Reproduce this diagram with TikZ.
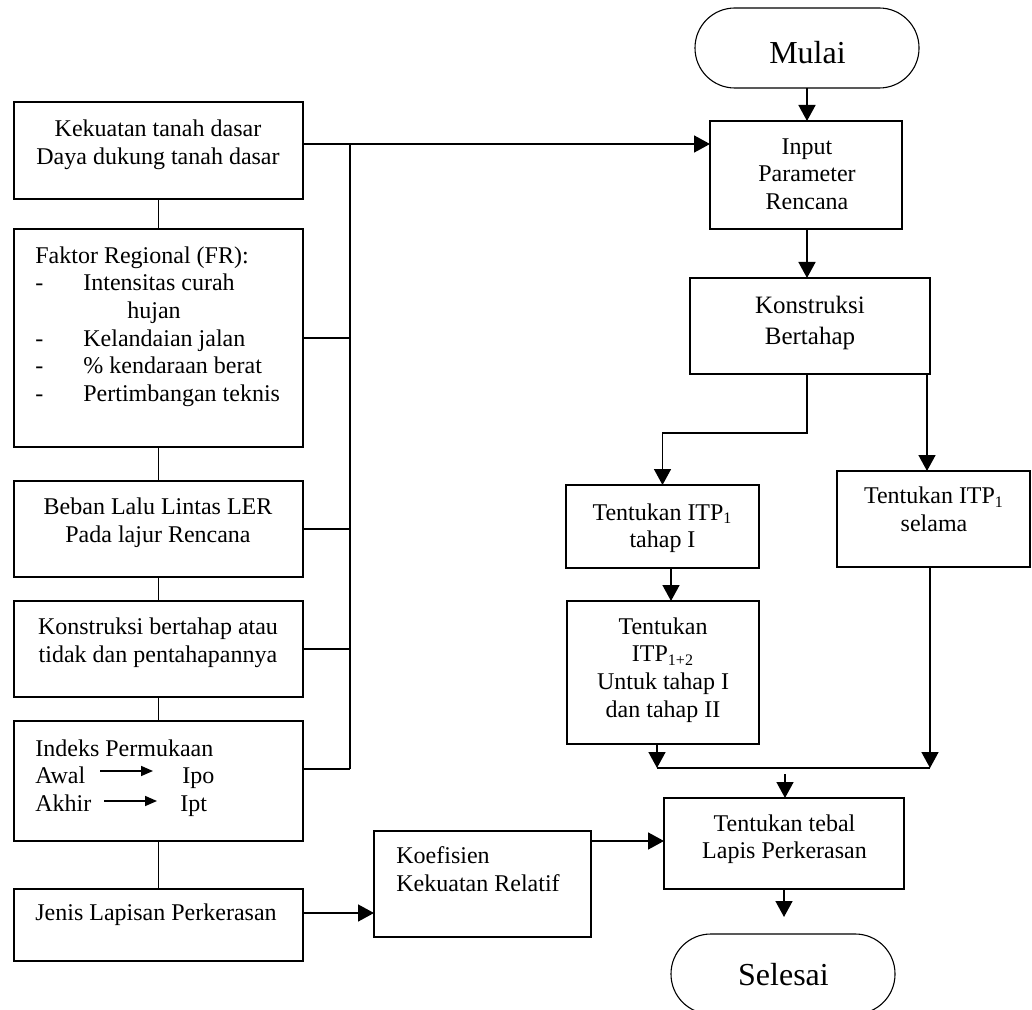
\documentclass[tikz,border=0pt]{standalone}
\usepackage{fontspec}
\setmainfont{Liberation Serif}
\usetikzlibrary{arrows.meta}
\begin{document}
\begin{tikzpicture}[x=0.5pt,y=-0.5pt,
  boxf/.style={draw,line width=0.75pt,inner sep=0pt,outer sep=0pt},
  termbox/.style={draw,line width=0.55pt,rounded corners=19.9pt,inner sep=0pt,outer sep=0pt,minimum width=112pt,minimum height=40pt},
  txt/.style={inner sep=0pt,font=\fontsize{12}{13.8}\selectfont,align=center},
  txtl/.style={inner sep=0pt,font=\fontsize{12}{13.8}\selectfont,align=left},
  bigtxt/.style={inner sep=0pt,font=\fontsize{16}{19}\selectfont},
  conn/.style={line width=0.8pt},
  arr/.style={line width=0.8pt,-{Triangle[length=8pt,width=8.5pt]}},
  smallarr/.style={line width=0.8pt,-{Triangle[length=6pt,width=5pt]}},
]
\useasboundingbox (0,0) rectangle (1032,1010);

% ---------- left column ----------
\node[boxf,minimum width=144.5pt,minimum height=48.5pt] (k1) at (158.5,150.5) {};
\node[txt] (k1t) at (158,145) {Kekuatan tanah dasar\\Daya dukung tanah dasar};

\node[boxf,minimum width=144.5pt,minimum height=109pt] (k2) at (158.5,338) {};
\node[txtl,anchor=west] (k2t) at (35,326.5) {Faktor Regional (FR):\\
\makebox[24pt][l]{-}Intensitas curah\\
\hspace*{46pt}hujan\\
\makebox[24pt][l]{-}Kelandaian jalan\\
\makebox[24pt][l]{-}\% kendaraan berat\\
\makebox[24pt][l]{-}Pertimbangan teknis};

\node[boxf,minimum width=144.5pt,minimum height=48pt] (k3) at (158.5,529) {};
\node[txt] (k3t) at (158,523) {Beban Lalu Lintas LER\\Pada lajur Rencana};

\node[boxf,minimum width=144.5pt,minimum height=48pt] (k4) at (158.5,649) {};
\node[txt] (k4t) at (158,643) {Konstruksi bertahap atau\\tidak dan pentahapannya};

\node[boxf,minimum width=144.5pt,minimum height=60pt] (k5) at (158.5,781) {};
\node[txtl,anchor=west] (k5t) at (35,778) {Indeks Permukaan\\
\makebox[73.5pt][l]{Awal}Ipo\\
\makebox[72.5pt][l]{Akhir}Ipt};
\coordinate (aw1) at (100,771); \coordinate (aw2) at (153,771);
\coordinate (ak1) at (104,801); \coordinate (ak2) at (157,801);
\draw[smallarr] (aw1) -- (aw2);
\draw[smallarr] (ak1) -- (ak2);

\node[boxf,minimum width=144.5pt,minimum height=36pt] (k6) at (158.5,925) {};
\node[txtl,anchor=base west] (k6t) at (35,920.7) {Jenis Lapisan Perkerasan};

\draw[conn] (k1.south) -- (k2.north);
\draw[conn] (k2.south) -- (k3.north);
\draw[conn] (k3.south) -- (k4.north);
\draw[conn] (k4.south) -- (k5.north);
\draw[conn] (k5.south) -- (k6.north);

% bus
\coordinate (bt) at (350,144);
\coordinate (bb) at (350,769);
\draw[conn] (bt) -- (bb);
\draw[conn] (k2.east) -- (k2.east-|bt);
\draw[conn] (k3.east) -- (k3.east-|bt);
\draw[conn] (k4.east) -- (k4.east-|bt);
\draw[conn] (k5.east|-bb) -- (bb);

% ---------- right column ----------
\node[termbox] (mulai) at (807,48) {};
\node[bigtxt,anchor=base] (mulait) at (807.5,63.3) {Mulai};

\node[boxf,minimum width=96pt,minimum height=54pt] (inp) at (806,175) {};
\node[txt] (inpt) at (807,174) {Input\\Parameter\\Rencana};

\node[boxf,minimum width=120pt,minimum height=48pt] (kb) at (810,326) {};
\node[txt,font=\fontsize{12.5}{15.5}\selectfont] (kbt) at (810,323) {Konstruksi\\Bertahap};

\node[boxf,minimum width=96.5pt,minimum height=41.5pt] (t1) at (662.5,526.5) {};
\node[txt] (t1t) at (662.5,528.2) {Tentukan ITP\textsubscript{1}\\tahap I};

\node[boxf,minimum width=96pt,minimum height=71.5pt] (t12) at (663,672.5) {};
\node[txt] (t12t) at (663,670) {Tentukan\\ITP\textsubscript{1+2}\\Untuk tahap I\\dan tahap II};

\node[boxf,minimum width=96.5pt,minimum height=48pt] (ts) at (933.5,519) {};
\node[txt] (tst) at (934,509.3) {Tentukan ITP\textsubscript{1}\\selama};

\node[boxf,minimum width=120pt,minimum height=45.5pt] (tt) at (784,843.5) {};
\node[txt] (ttt) at (784.5,839.3) {Tentukan tebal\\Lapis Perkerasan};

\node[boxf,minimum width=108.5pt,minimum height=53pt] (kr) at (482.5,884) {};
\node[txtl,anchor=west] (krt) at (396,869) {Koefisien\\Kekuatan Relatif};

\node[termbox] (sel) at (783,974) {};
\node[bigtxt,anchor=base] (selt) at (783.5,985.7) {Selesai};

% connectors
\coordinate (cx) at (807,0);
\coordinate (c1) at (0,433);
\coordinate (c2) at (927,0);
\coordinate (c3) at (671,0);
\coordinate (m1) at (657,768);
\coordinate (m2) at (930,768);
\coordinate (m3) at (785,774);
\coordinate (c4) at (0,841);
\coordinate (c5) at (0,913);
\coordinate (c6) at (784,917);

\draw[arr] (k1.east|-bt) -- (inp.west|-bt);
\draw[arr] (mulai.south) -- (mulai.south|-inp.north);
\draw[arr] (cx|-inp.south) -- (cx|-kb.north);
\draw[arr] (cx|-kb.south) -- (cx|-c1) -| (t1.north);
\draw[arr] (c2|-kb.south) -- (c2|-ts.north);
\draw[arr] (c3|-t1.south) -- (c3|-t12.north);
\draw[arr] (m1|-t12.south) -- (m1);
\draw[arr] (m2|-ts.south) -- (m2);
\draw[conn] (m1) -- (m2);
\draw[arr] (m3) -- (m3|-tt.north);
\draw[arr] (kr.east|-c4) -- (tt.west|-c4);
\draw[arr] (k6.east|-c5) -- (kr.west|-c5);
\draw[arr] (c6|-tt.south) -- (c6);
\end{tikzpicture}
\end{document}
